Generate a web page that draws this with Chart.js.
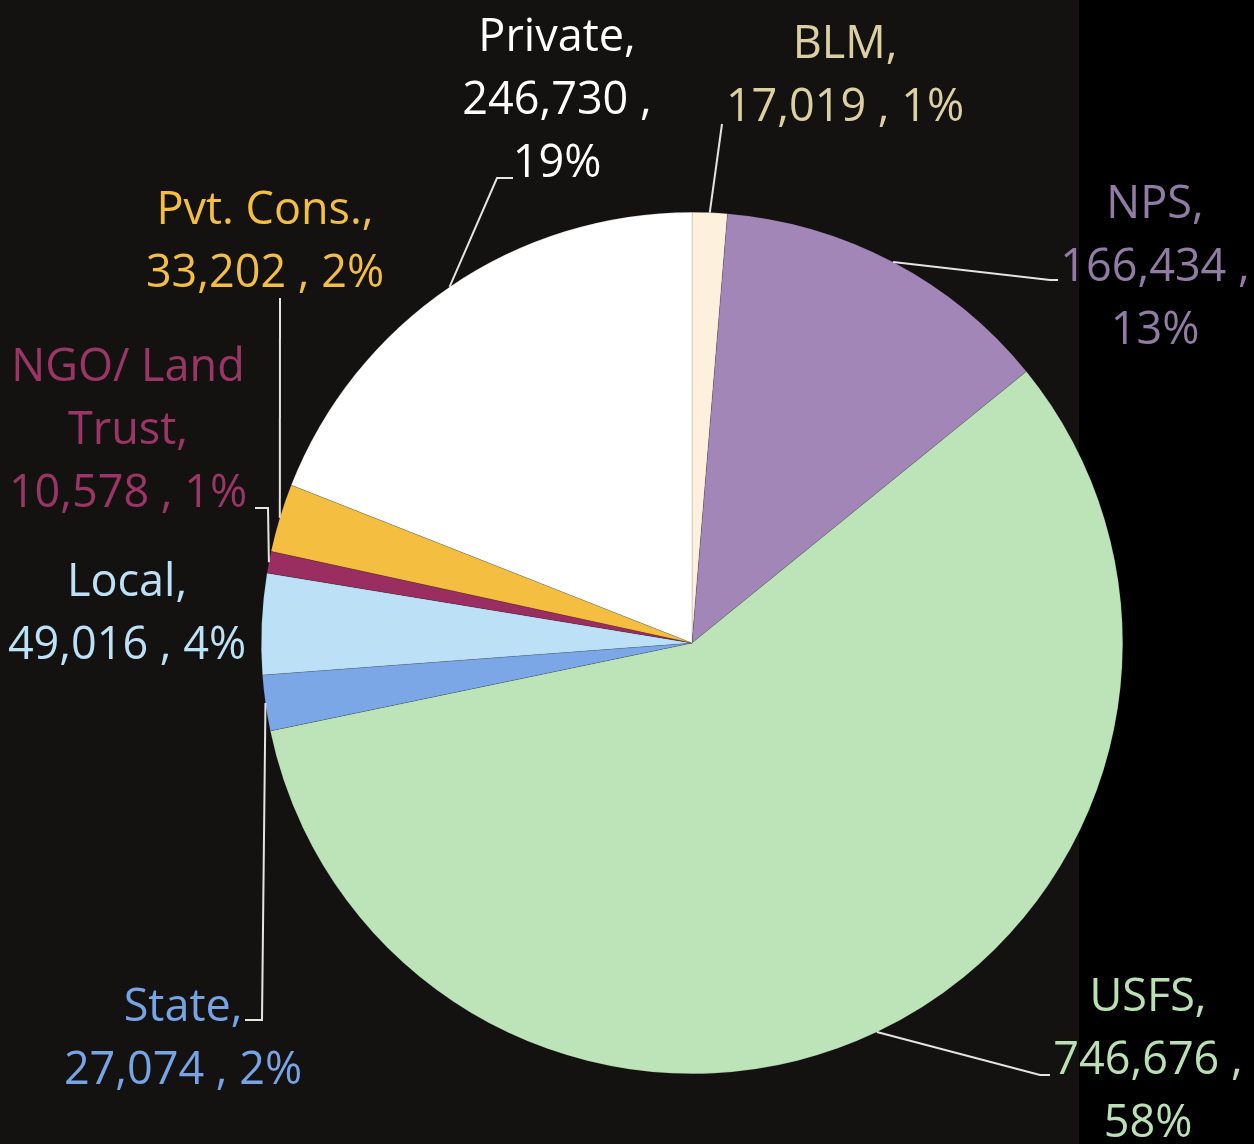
<!DOCTYPE html>
<html>
<head>
<meta charset="utf-8">
<script src="https://cdn.jsdelivr.net/npm/chart.js@4.4.1/dist/chart.umd.min.js"></script>
<style>
  html, body { margin: 0; padding: 0; }
  body {
    width: 1254px; height: 1144px; overflow: hidden;
    background: linear-gradient(to right, #131211 0, #131211 1079px, #000 1079px, #000 100%);
  }
  #wrap { position: relative; width: 1254px; height: 1144px; }
</style>
</head>
<body>
<div id="wrap"><canvas id="landChart"></canvas></div>
<script>
// acres by owner, clockwise from 12 o'clock
const owners = ["BLM", "NPS", "USFS", "State", "Local", "NGO/ Land Trust", "Pvt. Cons.", "Private"];
const acres = [17019, 166434, 746676, 27074, 49016, 10578, 33202, 246730];
const pctLabels = ["1%", "13%", "58%", "2%", "4%", "1%", "2%", "19%"];

const sliceColors = ["#FDF0DC", "#A186B7", "#BDE3B8", "#7BA7E7", "#BCE1F6", "#9A2E61", "#F4BE40", "#FFFFFF"];
const textColors = ["#DDD0A0", "#927CA6", "#B9E1B4", "#76A4E4", "#BDE1F6", "#9B3565", "#F4BE40", "#FFFFFF"];

// label placement: x = text centre, y = first baseline, lead = leader line points after the arc
const labelLayout = [
  { x: 845, y: 58, wrap: "two", lead: [[722, 124]] },
  { x: 1155, y: 218, wrap: "three", lead: [[1050, 280], [1058, 280]] },
  { x: 1148, y: 1011, wrap: "three", lead: [[1040, 1075], [1050, 1075]] },
  { x: 183, y: 1021, wrap: "two", lead: [[262, 1020], [245, 1020]] },
  { x: 127, y: 596, wrap: "two", lead: null },
  { x: 128, y: 381, wrap: "name", lead: [[268, 508], [255, 508]] },
  { x: 265, y: 224, wrap: "two", lead: [[280, 298]] },
  { x: 557, y: 51, wrap: "three", lead: [[497, 178], [513, 178]] }
];

function labelLines(i) {
  const name = owners[i];
  const val = acres[i].toLocaleString("en-US");
  const mode = labelLayout[i].wrap;
  if (mode === "two") return [name + ",", val + " , " + pctLabels[i]];
  if (mode === "three") return [name + ",", val + " ,", pctLabels[i]];
  // long name broken before last word
  const cut = name.lastIndexOf(" ");
  return [name.slice(0, cut), name.slice(cut + 1) + ",", val + " , " + pctLabels[i]];
}

const calloutPlugin = {
  id: "callouts",
  afterDatasetsDraw(chart) {
    const c = chart.ctx;
    const arcs = chart.getDatasetMeta(0).data;
    c.save();
    c.font = "45px 'Open Sans', 'Noto Sans', sans-serif";
    c.textAlign = "center";
    c.textBaseline = "alphabetic";
    arcs.forEach((arc, i) => {
      const lay = labelLayout[i];
      if (lay.lead) {
        const mid = (arc.startAngle + arc.endAngle) / 2;
        c.beginPath();
        c.moveTo(arc.x + Math.cos(mid) * arc.outerRadius, arc.y + Math.sin(mid) * arc.outerRadius);
        lay.lead.forEach(p => c.lineTo(p[0], p[1]));
        c.strokeStyle = "#E4E4E4";
        c.lineWidth = 2;
        c.stroke();
      }
      c.fillStyle = textColors[i];
      labelLines(i).forEach((t, k) => c.fillText(t, lay.x, lay.y + k * 63));
    });
    c.restore();
  }
};

new Chart(document.getElementById("landChart"), {
  type: "pie",
  data: {
    labels: owners,
    datasets: [{
      data: acres,
      backgroundColor: sliceColors,
      borderColor: "rgba(0,0,0,0.25)",
      borderWidth: 0.5
    }]
  },
  options: {
    responsive: true,
    maintainAspectRatio: false,
    animation: false,
    layout: { padding: { left: 261, right: 131, top: 212, bottom: 70 } },
    plugins: { legend: { display: false }, tooltip: { enabled: false } }
  },
  plugins: [calloutPlugin]
});
</script>
</body>
</html>
